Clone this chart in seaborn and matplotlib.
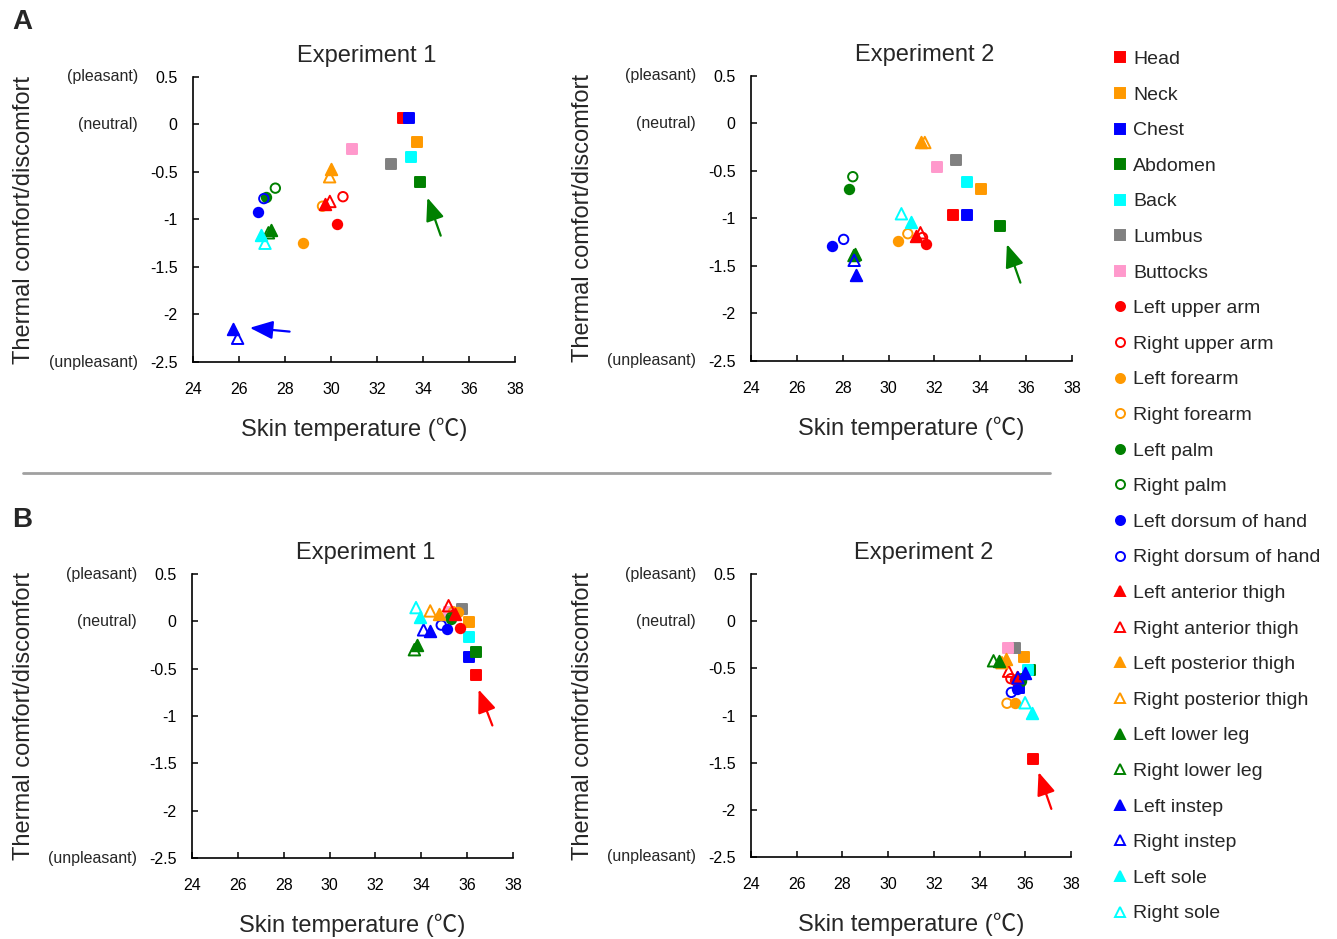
import numpy as np
import pandas as pd
import matplotlib
matplotlib.use("Agg")
import matplotlib.pyplot as plt
from matplotlib.lines import Line2D
import seaborn as sns

# ---------------- data ----------------
sites = ["Head", "Neck", "Chest", "Abdomen", "Back", "Lumbus", "Buttocks",
         "Left upper arm", "Right upper arm", "Left forearm", "Right forearm",
         "Left palm", "Right palm", "Left dorsum of hand", "Right dorsum of hand",
         "Left anterior thigh", "Right anterior thigh", "Left posterior thigh",
         "Right posterior thigh", "Left lower leg", "Right lower leg",
         "Left instep", "Right instep", "Left sole", "Right sole"]

a1_temp = [33.15, 33.72, 33.40, 33.88, 33.49, 32.60, 30.92, 30.28, 30.52, 28.78, 29.63,
           27.16, 27.58, 26.83, 27.08, 29.73, 29.95, 30.01, 29.94, 27.37, 27.28,
           25.76, 25.94, 26.96, 27.13]
a1_comfort = [0.07, -0.18, 0.07, -0.61, -0.34, -0.42, -0.26, -1.05, -0.76, -1.25, -0.86,
              -0.76, -0.67, -0.92, -0.78, -0.84, -0.81, -0.47, -0.55, -1.11, -1.14,
              -2.15, -2.25, -1.16, -1.25]

a2_temp = [32.83, 34.03, 33.40, 34.85, 33.40, 32.93, 32.12, 31.64, 31.48, 30.43, 30.84,
           28.27, 28.44, 27.54, 28.04, 31.20, 31.39, 31.42, 31.58, 28.55, 28.49,
           28.56, 28.50, 30.96, 30.56]
a2_comfort = [-0.96, -0.69, -0.96, -1.08, -0.62, -0.38, -0.46, -1.27, -1.20, -1.24, -1.16,
              -0.69, -0.56, -1.29, -1.22, -1.18, -1.15, -0.20, -0.20, -1.37, -1.39,
              -1.60, -1.44, -1.04, -0.95]

b1_temp = [36.40, 36.10, 36.08, 36.40, 36.10, 35.76, 35.20, 35.67, 35.50, 35.60, 35.40,
           35.28, 35.30, 35.10, 34.87, 35.47, 35.19, 34.79, 34.39, 33.83, 33.70,
           34.40, 34.10, 33.93, 33.77]
b1_comfort = [-0.57, -0.01, -0.375, -0.32, -0.165, 0.13, 0.10, -0.07, 0.08, 0.095, 0.10,
              0.02, 0.04, -0.085, -0.04, 0.074, 0.165, 0.074, 0.11, -0.25, -0.30,
              -0.10, -0.09, 0.043, 0.145]

b2_temp = [36.35, 35.96, 35.71, 36.22, 36.10, 35.56, 35.23, 35.55, 35.37, 35.56, 35.20,
           35.80, 35.85, 35.64, 35.39, 35.64, 35.27, 35.17, 34.98, 34.83, 34.61,
           35.99, 35.68, 36.31, 35.99]
b2_comfort = [-1.46, -0.38, -0.71, -0.52, -0.515, -0.285, -0.285, -0.62, -0.61, -0.87, -0.87,
              -0.63, -0.61, -0.72, -0.755, -0.59, -0.53, -0.405, -0.44, -0.42, -0.42,
              -0.554, -0.60, -0.97, -0.865]

xticks = [24, 26, 28, 30, 32, 34, 36, 38]
yticks = [-2.5, -2, -1.5, -1, -0.5, 0, 0.5]
ytick_labels = ["-2.5", "-2", "-1.5", "-1", "-0.5", "0", "0.5"]
titles = ["Experiment 1", "Experiment 2", "Experiment 1", "Experiment 2"]

# arrows: (tail_x, tail_y, head_x, head_y)
arrows = [(28.2, -2.18, 26.47, -2.14), (34.77, -1.17, 34.19, -0.77),
          (35.75, -1.675, 35.16, -1.27),
          (37.1, -1.10, 36.5, -0.72),
          (37.14, -1.99, 36.58, -1.60)]

# ---------------- styles ----------------
RED, ORANGE, BLUE, GREEN, CYAN, GRAY, PINK = ("#FF0000", "#FF9900", "#0000FF", "#008000",
                                              "#00FFFF", "#808080", "#FF99CC")
site_colors = [RED, ORANGE, BLUE, GREEN, CYAN, GRAY, PINK,
               RED, RED, ORANGE, ORANGE, GREEN, GREEN, BLUE, BLUE,
               RED, RED, ORANGE, ORANGE, GREEN, GREEN, BLUE, BLUE, CYAN, CYAN]
site_markers = ["s"] * 7 + ["o"] * 8 + ["^"] * 10
site_open = [False] * 7 + [False, True] * 9
marker_area = {"s": 56, "o": 46, "^": 68}

sns.set_style("white")
plt.rcParams["font.family"] = ["Liberation Sans", "Noto Sans CJK JP", "DejaVu Sans"]
plt.rcParams["axes.unicode_minus"] = False

fig = plt.figure(figsize=(13.37, 9.39), dpi=100)
W, H = 1337, 939


def px_axes(l, t, r, b):
    return fig.add_axes([l / W, 1 - b / H, (r - l) / W, (b - t) / H])


axes = [px_axes(193, 77, 515, 362), px_axes(751, 76, 1072, 361),
        px_axes(192, 574, 513, 858), px_axes(751, 574, 1071, 857)]

panels = [(a1_temp, a1_comfort), (a2_temp, a2_comfort),
          (b1_temp, b1_comfort), (b2_temp, b2_comfort)]
arrow_panels = [0, 0, 1, 2, 3]
arrow_colors = [BLUE, GREEN, GREEN, RED, RED]

for k, (ax, (tx, cy)) in enumerate(zip(axes, panels)):
    df = pd.DataFrame({"temp": tx, "comfort": cy, "site": sites})
    for i, s in enumerate(sites):
        sub = df[df["site"] == s]
        c = site_colors[i]
        m = site_markers[i]
        sns.scatterplot(data=sub, x="temp", y="comfort", ax=ax, marker=m,
                        s=marker_area[m], color=c,
                        facecolor="none" if site_open[i] else c,
                        edgecolor=c, linewidth=1.4, legend=False, zorder=3)
    ax.set_xlim(24, 38)
    ax.set_ylim(-2.5, 0.5)
    ax.set_xticks(xticks)
    ax.set_yticks(yticks, labels=ytick_labels)
    for sp in ["top", "right"]:
        ax.spines[sp].set_visible(False)
    for sp in ["left", "bottom"]:
        ax.spines[sp].set_color("black")
        ax.spines[sp].set_linewidth(1.2)
    ax.tick_params(axis="both", direction="in", length=4, width=1.1,
                   colors="black", labelsize=11.5, left=True, bottom=True)
    ax.tick_params(axis="y", pad=11)
    ax.tick_params(axis="x", pad=14.5)
    ax.set_xlabel("Skin temperature (℃)", fontsize=17, labelpad=15)
    ax.set_ylabel("Thermal comfort/discomfort", fontsize=17)
    ax.yaxis.set_label_coords(-0.49, 0.5)
    ax.set_title(titles[k], fontsize=17, pad=11, x=0.54)
    for lab, yv in [("(pleasant)", 0.5), ("(neutral)", 0.0), ("(unpleasant)", -2.5)]:
        ax.annotate(lab, xy=(0, yv), xycoords=("axes fraction", "data"),
                    xytext=(-55, 0), textcoords="offset pixels",
                    ha="right", va="center", fontsize=11.5)
    ax.grid(False)

for j, (x0, y0, x1, y1) in enumerate(arrows):
    ax = axes[arrow_panels[j]]
    ax.annotate("", xy=(x1, y1), xytext=(x0, y0), xycoords="data",
                arrowprops=dict(arrowstyle="-|>,head_length=0.8,head_width=0.32",
                                mutation_scale=17.5, color=arrow_colors[j], lw=1.6,
                                shrinkA=0, shrinkB=0), annotation_clip=False)

# panel letters
fig.text(22 / W, 1 - 22 / H, "A", fontsize=20, fontweight="bold", ha="center", va="center")
fig.text(22 / W, 1 - 520 / H, "B", fontsize=20, fontweight="bold", ha="center", va="center")

# divider
fig.add_artist(Line2D([23 / W, 1050 / W], [1 - 473 / H, 1 - 473 / H],
                      color="#a0a0a0", lw=2))

# legend
handles = []
leg_ms = {"s": 6.5, "o": 6.5, "^": 7.5}
for i, s in enumerate(sites):
    c = site_colors[i]
    m = site_markers[i]
    handles.append(Line2D([], [], linestyle="none", marker=m, markersize=leg_ms[m],
                          markerfacecolor="none" if site_open[i] else c,
                          markeredgecolor=c, markeredgewidth=1.4))
fig.legend(handles, sites, loc="upper left", bbox_to_anchor=(1112 / W, 1 - 50.5 / H),
           frameon=False, fontsize=14, labelspacing=0.925, handlelength=0.8,
           handletextpad=0.3, borderpad=0, borderaxespad=0)

fig.savefig("out.png", dpi=100)
